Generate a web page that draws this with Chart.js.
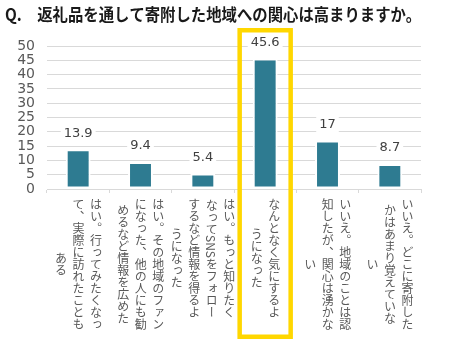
<!DOCTYPE html>
<html><head><meta charset="utf-8">
<script src="https://cdn.jsdelivr.net/npm/chart.js@4.4.0/dist/chart.umd.min.js"></script>
<style>
html,body{margin:0;padding:0;background:#fff;}
#wrap{position:relative;width:456px;height:346px;overflow:hidden;background:#fff;}
#c{position:absolute;left:0;top:0;}
.cat{position:absolute;writing-mode:vertical-rl;font-family:"Noto Sans CJK JP";font-size:12px;line-height:17.5px;color:#595959;white-space:nowrap;text-align:center;}
.cat span{display:inline;}
</style></head><body>
<div id="wrap"><canvas id="c" width="456" height="346"></canvas></div>
<script>
const titleText = "Q.\u3000返礼品を通して寄附した地域への関心は高まりますか。";
const categories = [
  ["はい。行ってみたくなっ", "て、実際に訪れたことも", "ある"],
  ["はい。その地域のファン", "になった、他の人にも勧", "めるなど情報を広めた"],
  ["はい。もっと知りたく", "なってSNSをフォロー", "するなど情報を得るよ", "うになった"],
  ["なんとなく気にするよ", "うになった"],
  ["いいえ。地域のことは認", "知したが、関心は湧かな", "い"],
  ["いいえ。どこに寄附した", "かはあまり覚えていな", "い"]
];
const values = [13.9, 9.4, 5.4, 45.6, 17, 8.7];
const yTicks = [0, 5, 10, 15, 20, 25, 30, 35, 40, 45, 50];
const highlightIndex = 3;

const barColor = '#2E7B91';
const gridColor = '#d9d9d9';

const valueLabelPlugin = {
  id: 'valueLabels',
  afterDatasetsDraw(chart) {
    const ctx = chart.ctx;
    const meta = chart.getDatasetMeta(0);
    ctx.save();
    ctx.font = '13px "DejaVu Sans"';
    ctx.textAlign = 'center';
    ctx.textBaseline = 'middle';
    meta.data.forEach((bar, i) => {
      const t = String(values[i]);
      const w = ctx.measureText(t).width;
      const y = bar.y - 16;
      ctx.fillStyle = '#fff';
      ctx.fillRect(bar.x - w / 2 - 3, y - 8, w + 6, 16);
      ctx.fillStyle = '#404040';
      ctx.fillText(t, bar.x, y);
    });
    ctx.restore();
  }
};

const highlightPlugin = {
  id: 'highlight',
  afterDraw(chart) {
    const ctx = chart.ctx;
    const x = chart.scales.x.getPixelForValue(highlightIndex);
    ctx.save();
    ctx.strokeStyle = '#FFD700';
    ctx.lineWidth = 4.5;
    ctx.strokeRect(x - 25.5, 30.25, 51, 306.5);
    ctx.restore();
  }
};

const chart = new Chart(document.getElementById('c'), {
  type: 'bar',
  data: {
    labels: categories,
    datasets: [{
      data: values,
      backgroundColor: barColor,
      borderColor: '#ffffff',
      borderWidth: 2,
      borderSkipped: false,
      barPercentage: 0.40,
      categoryPercentage: 1.0
    }]
  },
  options: {
    responsive: false,
    animation: false,
    events: [],
    layout: { padding: { left: 5, right: 35, top: 0, bottom: 0 } },
    plugins: {
      legend: { display: false },
      tooltip: { enabled: false },
      title: {
        display: true,
        text: titleText,
        align: 'start',
        color: '#1a1a1a',
        font: { family: '"Noto Sans CJK JP"', size: 16.5, weight: 'bold', lineHeight: 1.2 },
        padding: { top: 5, bottom: 21.2 }
      }
    },
    scales: {
      x: {
        z: 1,
        offset: true,
        ticks: { display: false },
        grid: { display: true, offset: true, drawOnChartArea: false, drawTicks: true, tickLength: 4, color: gridColor },
        border: { display: true, color: gridColor },
        afterFit(scale) { scale.height = 157; }
      },
      y: {
        min: 0,
        max: 50,
        afterBuildTicks(scale) { scale.ticks = yTicks.map(v => ({ value: v })); },
        ticks: { autoSkip: false, color: '#595959', font: { family: '"DejaVu Sans"', size: 14, lineHeight: 1 }, padding: 12 },
        grid: { color: gridColor, drawTicks: false },
        border: { display: false },
        afterFit(scale) { scale.width = 42; }
      }
    }
  },
  plugins: [valueLabelPlugin, highlightPlugin]
});

// vertical category labels placed from the chart's x scale
const wrap = document.getElementById('wrap');
const xs = chart.scales.x;
chart.data.labels.forEach((lines, i) => {
  const d = document.createElement('div');
  d.className = 'cat';
  d.innerHTML = lines.map(l => '<span>' + l + '</span>').join('<br>');
  wrap.appendChild(d);
  let maxLen = 0;
  d.querySelectorAll('span').forEach(s => { maxLen = Math.max(maxLen, s.getBoundingClientRect().height); });
  const colW = 17.5 * lines.length;
  d.style.height = Math.ceil(maxLen) + 'px';
  d.style.width = colW + 'px';
  d.style.top = '198px';
  d.style.left = (xs.getPixelForValue(i) - colW / 2) + 'px';
});
</script>
</body></html>
